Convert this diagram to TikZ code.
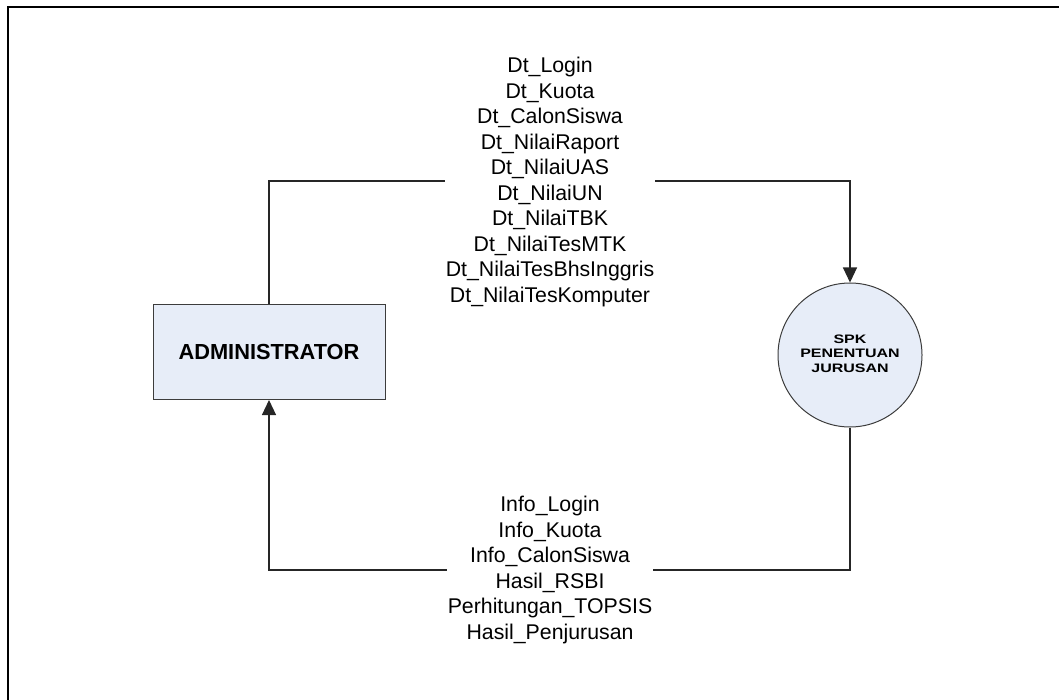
\documentclass[tikz,border=0pt]{standalone}
\usepackage{fontspec}
\setmainfont{Liberation Sans}
\usetikzlibrary{arrows.meta}
\definecolor{shapefill}{RGB}{231,237,248}
\definecolor{shapeline}{RGB}{60,60,60}
\tikzset{
  flow/.style={line width=1.1pt, draw=black!85},
  flowarrow/.style={flow, -{Triangle[length=15pt,width=14pt]}},
  entity/.style={draw=shapeline, line width=1pt, fill=shapefill,
    minimum width=232pt, minimum height=95pt, inner sep=0pt,
    font=\fontsize{21.8}{25}\selectfont\bfseries},
  process/.style={circle, draw=shapeline, line width=1pt, fill=shapefill,
    minimum size=144pt, inner sep=0pt, align=center},
  flowlabel/.style={fill=white, inner sep=1pt, align=center,
    font=\fontsize{21.3}{25.5}\selectfont},
}
\begin{document}
\begin{tikzpicture}[x=1pt, y=-1pt]
  \useasboundingbox (0,0) rectangle (1059,700);
  % page frame (top and left edges)
  \draw[line width=1.5pt] (8,700) -- (8,7) -- (1059,7);

  % external entity and process
  \node[entity] (admin) at (269,352) {ADMINISTRATOR};
  \node[process] (spk) at (850,355)
    {\scalebox{1.3}[1]{\fontsize{12.3}{14.5}\selectfont\bfseries
      \begin{tabular}{@{}c@{}}SPK\\PENENTUAN\\JURUSAN\end{tabular}}};

  % routing corners
  \coordinate (topc) at (550,181);
  \coordinate (botc) at (550,570);

  % data flows
  \draw[flowarrow] (admin.north) |- (topc) -| (spk.north);
  \draw[flowarrow] (spk.south) |- (botc) -| (admin.south);

  % flow labels
  \node[flowlabel] (datain) at (550,182) {Dt\_Login\\Dt\_Kuota\\Dt\_CalonSiswa\\Dt\_NilaiRaport\\Dt\_NilaiUAS\\Dt\_NilaiUN\\Dt\_NilaiTBK\\Dt\_NilaiTesMTK\\Dt\_NilaiTesBhsInggris\\Dt\_NilaiTesKomputer};
  \node[flowlabel] (infoout) at (550,570) {Info\_Login\\Info\_Kuota\\Info\_CalonSiswa\\Hasil\_RSBI\\Perhitungan\_TOPSIS\\Hasil\_Penjurusan};
\end{tikzpicture}
\end{document}
